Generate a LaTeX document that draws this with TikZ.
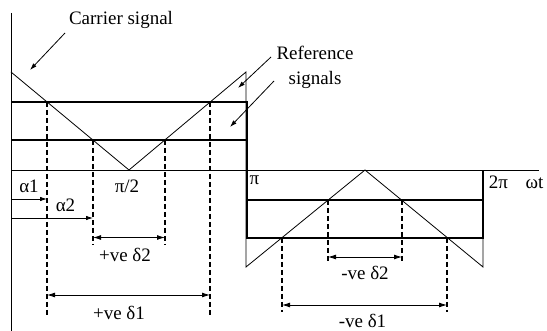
\documentclass[tikz,border=0pt]{standalone}
\usepackage{fontspec}
\setmainfont{Liberation Serif}
\usetikzlibrary{arrows.meta}
\begin{document}
\begin{tikzpicture}[x=1pt,y=-1pt,
  thinline/.style={line width=0.8pt},
  boldline/.style={line width=2.2pt},
  guide/.style={line width=1.3pt, dash pattern=on 5pt off 3pt},
  dim/.style={line width=0.9pt, {Latex[length=8pt,width=5pt]}-{Latex[length=8pt,width=5pt]}},
  ptr/.style={line width=0.8pt, -{Latex[length=7pt,width=4.5pt]}},
  lbl/.style={font=\fontsize{19}{22}\selectfont, inner sep=0pt, anchor=base}
]
\useasboundingbox (0,0) rectangle (547,331);
% axes
\coordinate (Ytop) at (11,13);
\coordinate (Ybot) at (11,331);
\coordinate (O) at (11,170);
\coordinate (Xend) at (539,170);
% carrier
\coordinate (c0) at (11,72);
\coordinate (c1) at (129,170);
\coordinate (c2) at (246,72);
\coordinate (c3) at (246,267);
\coordinate (c4) at (365,170);
\coordinate (c5) at (483,267);
% reference lines
\coordinate (a1) at (11,102);
\coordinate (a2) at (247,102);
\coordinate (b1) at (11,140);
\coordinate (b2) at (247,140);
\coordinate (n1) at (247,200);
\coordinate (n2) at (483,200);
\coordinate (m1) at (247,238);
\coordinate (m2) at (483,238);
\coordinate (n0) at (483,170);
% intersections
\coordinate (i1) at (47,102);
\coordinate (i2) at (93,140);
\coordinate (i3) at (165,140);
\coordinate (i4) at (210,102);
\coordinate (j1) at (282,238);
\coordinate (j2) at (328,200);
\coordinate (j3) at (402,200);
\coordinate (j4) at (447,238);
% levels
\coordinate (yA) at (0,315);
\coordinate (yB) at (0,245);
\coordinate (yC) at (0,263);
\coordinate (yD) at (0,312);
\coordinate (yal1) at (11,199);
\coordinate (yal2) at (11,218);
\coordinate (yd2p) at (0,237.5);
\coordinate (yd1p) at (0,295);
\coordinate (yd2n) at (0,257);
\coordinate (yd1n) at (0,305);

% dashed guides
\draw[guide] (i1) -- (i1 |- yA);
\draw[guide] (i4) -- (i4 |- yA);
\draw[guide] (i2) -- (i2 |- yB);
\draw[guide] (i3) -- (i3 |- yB);
\draw[guide] (j2) -- (j2 |- yC);
\draw[guide] (j3) -- (j3 |- yC);
\draw[guide] (j1) -- (j1 |- yD);
\draw[guide] (j4) -- (j4 |- yD);

% axes
\draw[thinline] (Ytop) -- (Ybot);
\draw[thinline] (O) -- (Xend);

% carrier
\draw[thinline] (c0) -- (c1) -- (c2) -- (c3) -- (c4) -- (c5) -- (m2);

% reference signals
\draw[boldline] (a1) -- (a2) -- (m1) -- (m2) -- (n0);
\draw[boldline] (b1) -- (b2);
\draw[boldline] (n1) -- (n2);

% alpha pointers
\draw[ptr] (yal1) -- (i1 |- yal1);
\draw[ptr] (yal2) -- (i2 |- yal2);

% dimension arrows
\draw[dim] (i2 |- yd2p) -- (i3 |- yd2p);
\draw[dim] (i1 |- yd1p) -- (i4 |- yd1p);
\draw[dim] (j2 |- yd2n) -- (j3 |- yd2n);
\draw[dim] (j1 |- yd1n) -- (j4 |- yd1n);

% labels
\node[lbl] (carrier) at (121,25) {Carrier signal};
\node[lbl] (ref1) at (315,60) {Reference};
\node[lbl] (ref2) at (315,85) {signals};
\node[lbl] (al1) at (29,193) {α1};
\node[lbl] (al2) at (65.5,212) {α2};
\node[lbl] (pih) at (127,193) {π/2};
\node[lbl] (pi) at (254.5,185) {π};
\node[lbl] (tpi) at (498.5,189) {2π};
\node[lbl] (wt) at (534.5,189) {ωt};
\node[lbl] (d2p) at (125,262) {+ve δ2};
\node[lbl] (d1p) at (119,320) {+ve δ1};
\node[lbl] (d2n) at (365,280) {-ve δ2};
\node[lbl] (d1n) at (362.5,328) {-ve δ1};

% label pointers
\coordinate (cs) at (65,33);
\coordinate (ct) at (30,70);
\coordinate (rs1) at (271,57);
\coordinate (rt1) at (238,88);
\coordinate (rs2) at (274,81);
\coordinate (rt2) at (230,127);
\draw[ptr] (cs) -- (ct);
\draw[ptr] (rs1) -- (rt1);
\draw[ptr] (rs2) -- (rt2);
\end{tikzpicture}
\end{document}
